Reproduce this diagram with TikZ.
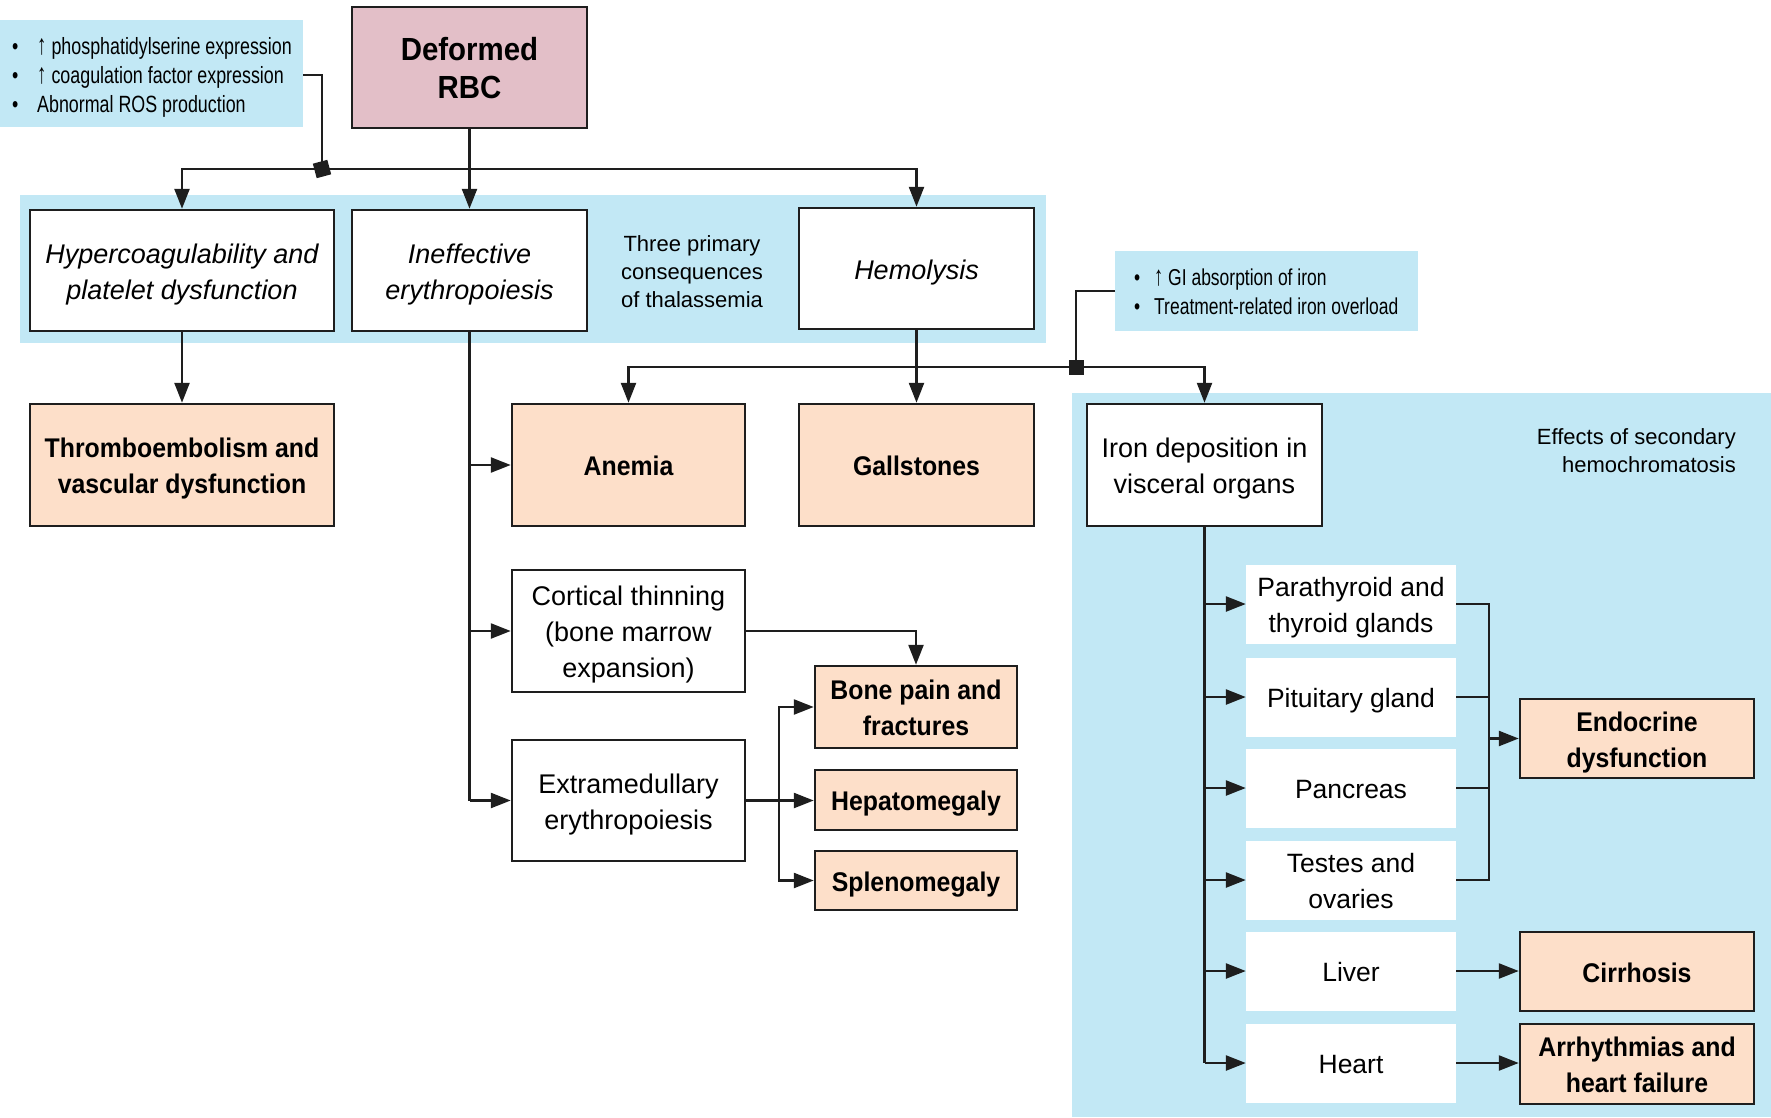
\documentclass[tikz,border=0pt]{standalone}
\usepackage{fontspec}
\usepackage{graphicx}
\setmainfont{Liberation Sans}
\newfontfamily\condfont{Liberation Sans}[FakeStretch=0.92]
\newfontfamily\narrowfont{Liberation Sans}[FakeStretch=0.76]
\usetikzlibrary{arrows.meta}
\definecolor{bluebg}{RGB}{194,232,245}
\definecolor{pinkbox}{RGB}{227,191,200}
\definecolor{peach}{RGB}{253,223,201}
\definecolor{edge}{RGB}{30,30,30}
\newcommand\fs{\rule{0pt}{1em}}
\newcommand\uparr{\scalebox{1.05}[1.2]{↑}}
\tikzset{
  ln/.style={line width=2.5pt, draw=edge},
  arr/.style={ln, -{Triangle[length=20pt,width=15pt]}},
  struts/.style={execute at begin node={\rule{0pt}{1em}},
    execute at end node={\rule[-0.22em]{0pt}{0pt}}},
  basebox/.style={draw=edge, line width=2.5pt, align=center, inner sep=0pt, struts},
  wbox/.style={basebox, fill=white, font=\fontsize{27}{36}\selectfont},
  ibox/.style={basebox, fill=white, font=\itshape\fontsize{27}{36}\selectfont},
  obox/.style={basebox, fill=peach, font=\condfont\bfseries\fontsize{27}{36}\selectfont},
  organ/.style={fill=white, draw=none, align=center, inner sep=0pt, struts,
    minimum width=210pt, minimum height=79pt, font=\fontsize{26.5}{36}\selectfont},
  marker/.style={fill=edge, draw=none, minimum size=15pt, inner sep=0pt},
  panel/.style={fill=bluebg, draw=none, inner sep=0pt, anchor=north west},
  notetext/.style={anchor=west, align=left, inner sep=0pt,
    font=\narrowfont\fontsize{23.5}{29}\selectfont},
  plain/.style={align=center, inner sep=0pt, font=\fontsize{22}{28}\selectfont}
}
\begin{document}
\begin{tikzpicture}[x=1pt,y=-1pt]
\useasboundingbox (0,0) rectangle (1771,1117);
% background panels
\fill[bluebg] (20,195) rectangle (1046,343);
\fill[bluebg] (1072,393) rectangle (1771,1117);

% top
\node[panel, minimum width=303pt, minimum height=107pt] (risk) at (0,20) {};
\node[notetext] (risktext) at (12,77)
  {\makebox[25pt][l]{\textbullet}\uparr\ phosphatidylserine expression\\
   \makebox[25pt][l]{\textbullet}\uparr\ coagulation factor expression\\
   \makebox[25pt][l]{\textbullet}Abnormal ROS production};
\node[basebox, fill=pinkbox, minimum width=235pt, minimum height=121pt,
  font=\condfont\bfseries\fontsize{32}{38}\selectfont] (rbc) at (469.5,67.5) {\fs Deformed\\RBC};

% primary consequences
\node[ibox, minimum width=304pt, minimum height=121pt] (hyp) at (182,270.5)
  {\fs Hypercoagulability and\\platelet dysfunction};
\node[ibox, minimum width=235pt, minimum height=121pt] (inef) at (469.5,270.5)
  {\fs Ineffective\\erythropoiesis};
\node[plain] (three) at (692,272) {Three primary\\consequences\\of thalassemia};
\node[ibox, minimum width=235pt, minimum height=121pt] (hem) at (916.5,268.5) {Hemolysis};

\node[marker, rotate=15] (m1) at (322,169) {};
\coordinate (bus) at (469.5,169);
\draw[ln] (risk.east |- 0,75) -| (m1.center);
\draw[arr] (rbc.south) -- (inef.north);
\draw[arr] (bus) -| (hyp.north);
\draw[arr] (bus) -| (hem.north);

% second row
\node[obox, minimum width=304pt, minimum height=122pt] (thromb) at (182,465)
  {\fs Thromboembolism and\\vascular dysfunction};
\node[obox, minimum width=233pt, minimum height=122pt] (anemia) at (628.5,465) {Anemia};
\node[obox, minimum width=235pt, minimum height=122pt] (gall) at (916.5,465) {Gallstones};
\node[wbox, minimum width=235pt, minimum height=122pt] (iron) at (1204.5,465)
  {\fs Iron deposition in\\visceral organs};
\node[panel, minimum width=303pt, minimum height=80pt] (gi) at (1115,251) {};
\node[notetext, font=\narrowfont\fontsize{23}{29}\selectfont] (gitext) at (1134,292)
  {\makebox[20pt][l]{\textbullet}\uparr\ GI absorption of iron\\
   \makebox[20pt][l]{\textbullet}Treatment-related iron overload};
\node[plain, anchor=east, align=right] (eff) at (1736,450.5)
  {Effects of secondary\\hemochromatosis};

\draw[arr] (hyp.south) -- (thromb.north);
\draw[arr] (hem.south) -- (gall.north);
\coordinate (hbus) at (916.5,367);
\node[marker] (m2) at (1076,367) {};
\draw[ln] (gi.west) -| (m2.center);
\draw[arr] (hbus) -| (anemia.north);
\draw[arr] (hbus) -| (iron.north);

% ineffective erythropoiesis branch
\node[wbox, minimum width=233pt, minimum height=122pt] (cort) at (628.5,631)
  {\fs Cortical thinning\\(bone marrow\\expansion)};
\node[wbox, minimum width=233pt, minimum height=121pt] (extra) at (628.5,800.5)
  {\fs Extramedullary\\erythropoiesis};
\node[obox, minimum width=202pt, minimum height=82pt] (bone) at (916,707)
  {\fs Bone pain and\\fractures};
\node[obox, minimum width=202pt, minimum height=60pt] (hepato) at (916,800) {Hepatomegaly};
\node[obox, minimum width=202pt, minimum height=59pt] (spleen) at (916,880.5) {Splenomegaly};

\draw[ln] (inef.south) -- (inef.south |- extra.west);
\draw[arr] (inef.south |- anemia.west) -- (anemia.west);
\draw[arr] (inef.south |- cort.west) -- (cort.west);
\draw[arr] (inef.south |- extra.west) -- (extra.west);
\draw[arr] (cort.east) -| (bone.north);
\coordinate (eb) at (779,800.5);
\draw[ln] (extra.east) -- (eb);
\draw[arr] (eb) |- (bone.west);
\draw[arr] (eb) -- (eb -| hepato.west);
\draw[arr] (eb) |- (spleen.west);

% organs
\node[organ] (para) at (1351,604) {\fs Parathyroid and\\thyroid glands};
\node[organ] (pit) at (1351,697) {Pituitary gland};
\node[organ] (panc) at (1351,788) {Pancreas};
\node[organ] (test) at (1351,880) {\fs Testes and\\ovaries};
\node[organ] (liver) at (1351,971) {Liver};
\node[organ] (heart) at (1351,1063) {Heart};

\node[obox, minimum width=234pt, minimum height=79pt] (endo) at (1637,738.5)
  {\fs Endocrine\\dysfunction};
\node[obox, minimum width=234pt, minimum height=79pt] (cirr) at (1637,971.5) {Cirrhosis};
\node[obox, minimum width=234pt, minimum height=80pt] (arrh) at (1637,1064)
  {\fs Arrhythmias and\\heart failure};

\draw[ln] (iron.south) -- (iron.south |- heart.west);
\foreach \o in {para,pit,panc,test,liver,heart}
  \draw[arr] (iron.south |- \o.west) -- (\o.west);
\coordinate (ec) at (1489,738.5);
\draw[ln] (para.east) -- (para.east -| ec) -- (test.east -| ec) -- (test.east);
\draw[ln] (pit.east) -- (pit.east -| ec);
\draw[ln] (panc.east) -- (panc.east -| ec);
\draw[arr] (ec) -- (endo.west);
\draw[arr] (liver.east) -- (liver.east -| cirr.west);
\draw[arr] (heart.east) -- (heart.east -| arrh.west);
\end{tikzpicture}
\end{document}
